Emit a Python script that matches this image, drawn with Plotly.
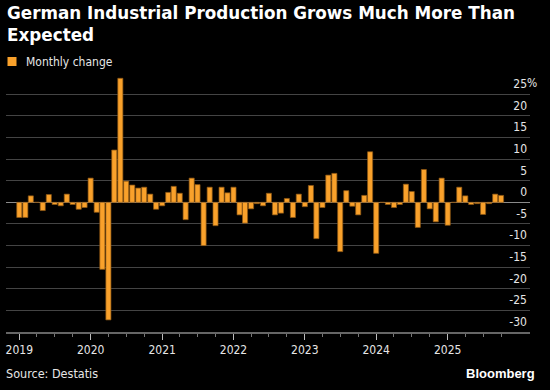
import plotly.graph_objects as go
import pandas as pd

months = pd.date_range("2019-01-01", "2025-10-01", freq="MS")
monthly_change = [
    -3.5, -3.5, 1.5, 0.0, -1.9, 1.8, -0.5, -0.8, 1.9, -0.5, -1.6, -1.2,   # 2019
    5.6, -2.3, -15.5, -27.2, 12.1, 28.7, 4.9, 4.0, 3.3, 3.5, 1.9, -1.6,   # 2020
    -0.8, 2.3, 3.7, 2.1, -4.0, 5.6, 4.1, -10.0, 3.5, -5.4, 3.5, 2.2,      # 2021
    3.5, -2.9, -4.8, -1.5, -0.3, -0.8, 2.1, -2.9, -2.5, 0.9, -3.5, 1.9,   # 2022
    -1.0, 3.9, -8.4, -1.2, 6.3, 6.7, -11.4, 2.7, -0.9, -2.9, 1.6, 11.7,   # 2023
    -11.8, 0.0, -0.5, -1.2, -0.5, 4.2, 2.5, -5.8, 7.6, -1.5, -4.5, 5.6,   # 2024
    -5.3, 0.0, 3.5, 1.5, -0.5, -0.3, -2.8, -0.3, 1.9, 1.6,                # 2025
]
y_tickvals = [25, 20, 15, 10, 5, 0, -5, -10, -15, -20, -25, -30]
y_ticktext = ["25", "20", "15", "10", "5", "0", "-5", "-10", "-15", "-20", "-25", "-30"]

ORANGE = "#F9A12B"
FONT = "DejaVu Sans Condensed, DejaVu Sans, sans-serif"

W, H = 550, 390
ML, MR, MT, MB = 6, 20, 77, 58
PW, PH = W - ML - MR, H - MT - MB

def px(x):
    return (x - ML) / PW

def py(y):
    return (H - MB - y) / PH

fig = go.Figure()
fig.add_trace(go.Bar(
    x=months, y=monthly_change, name="Monthly change",
    marker=dict(color=ORANGE, line=dict(color="#8E5714", width=0.7)),
    width=26 * 86400000, showlegend=False,
))

fig.update_layout(
    width=W, height=H,
    paper_bgcolor="#000000", plot_bgcolor="#000000",
    margin=dict(l=ML, r=MR, t=MT, b=MB, autoexpand=False),
    xaxis=dict(
        type="date",
        range=["2018-10-25", "2026-02-26"],
        tick0="2019-01-01", dtick="M12", tickformat="%Y",
        ticks="outside", ticklen=6, tickwidth=1, tickcolor="#bbbbbb",
        minor=dict(dtick="M3", tick0="2019-01-01", ticks="outside", ticklen=3,
                   tickcolor="#777777", tickwidth=1, showgrid=False),
        showgrid=False, showline=True, linecolor="#666666", linewidth=1.5,
        tickfont=dict(family=FONT, size=12, color="#e6e6e6"),
        zeroline=False, fixedrange=True,
    ),
    yaxis=dict(
        range=[-30, 29], side="right",
        tickmode="array", tickvals=y_tickvals, ticktext=y_ticktext,
        ticklabelposition="inside top", ticks="", ticklabelshift=-2,
        showgrid=True, gridcolor="#444444", gridwidth=1,
        zeroline=True, zerolinecolor="#8a8a8a", zerolinewidth=1,
        tickfont=dict(family=FONT, size=12, color="#e6e6e6"),
        showline=False, fixedrange=True,
    ),
    showlegend=False,
)

# title
fig.add_annotation(text="German Industrial Production Grows Much More Than<br>Expected",
                   xref="paper", yref="paper", x=px(5), y=py(1), xanchor="left",
                   yanchor="top", align="left", showarrow=False,
                   font=dict(family="DejaVu Sans", size=16.8, color="#ffffff", weight="bold"))
# legend (manual to match swatch spacing)
fig.add_shape(type="rect", xref="paper", yref="paper",
              x0=px(7.5), x1=px(16.5), y0=py(66), y1=py(57),
              fillcolor=ORANGE, line=dict(width=0))
fig.add_annotation(text="Monthly change", xref="paper", yref="paper",
                   x=px(23.5), y=py(61.5), xanchor="left", yanchor="middle",
                   showarrow=False, font=dict(family=FONT, size=12, color="#e6e6e6"))
# percent suffix hanging after the top tick label
fig.add_annotation(text="%", xref="paper", yref="y", x=1, y=25,
                   xanchor="left", yanchor="bottom", showarrow=False, xshift=-5, yshift=2,
                   font=dict(family=FONT, size=12, color="#e6e6e6"))
fig.add_annotation(text="Source: Destatis", xref="paper", yref="paper",
                   x=px(4), y=py(373), xanchor="left", yanchor="middle",
                   showarrow=False, font=dict(family=FONT, size=12.5, color="#e6e6e6"))
fig.add_annotation(text="Bloomberg", xref="paper", yref="paper",
                   x=px(537), y=py(373), xanchor="right", yanchor="middle",
                   showarrow=False,
                   font=dict(family="Liberation Sans, Arial, sans-serif", size=13,
                             color="#ffffff", weight="bold"))

fig.write_html("out.html", config={"displayModeBar": False},
               post_script="document.body.style.margin='0';")
